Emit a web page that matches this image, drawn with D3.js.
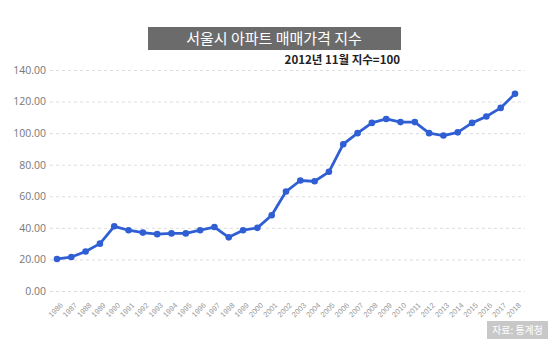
<!DOCTYPE html>
<html>
<head>
<meta charset="utf-8">
<script src="https://cdn.jsdelivr.net/npm/d3@7"></script>
<style>
  body { margin: 0; background: #fff; }
  svg { font-family: "Noto Sans CJK KR", "Noto Sans", sans-serif; }
</style>
</head>
<body>
<svg id="chart" width="559" height="352"></svg>
<script>
const years = d3.range(1986, 2019);
const values = [20.3, 21.5, 25, 30, 41, 38.5, 37, 36, 36.5, 36.5, 38.5, 40.5, 34, 38.5, 40,
                48, 63, 70, 69.5, 75.5, 93, 100, 106.5, 109, 107, 107, 100, 98.5, 100.5,
                106.5, 110.5, 116, 125];
const yTicks = [0, 20, 40, 60, 80, 100, 120, 140];

const svg = d3.select('#chart');

// scales
const x = d3.scalePoint().domain(years).range([57, 515]);
const y = d3.scaleLinear().domain([0, 140]).range([291, 70]);

// title
svg.append('rect')
  .attr('x', 148).attr('y', 27).attr('width', 253).attr('height', 23)
  .attr('fill', '#6b6b6b');
svg.append('text')
  .attr('x', 274).attr('y', 44).attr('text-anchor', 'middle')
  .attr('font-size', 15).attr('fill', '#fff')
  .text('서울시 아파트 매매가격 지수');
svg.append('text')
  .attr('x', 400).attr('y', 64).attr('text-anchor', 'end')
  .attr('font-size', 11.5).attr('font-weight', 'bold').attr('fill', '#222')
  .text('2012년 11월 지수=100');

// y axis with dashed gridlines
const yAxis = d3.axisLeft(y).tickValues(yTicks).tickFormat(d3.format('.2f'))
  .tickSize(-(525 - 50)).tickPadding(4);
const gy = svg.append('g').attr('transform', 'translate(50,0)').call(yAxis);
gy.select('.domain').remove();
gy.selectAll('.tick line').attr('stroke', '#ddd').attr('stroke-dasharray', '3,3');
gy.selectAll('.tick text').attr('fill', '#777').attr('font-size', 10.5)
  .attr('font-family', '"Open Sans", sans-serif');

// x axis labels
const xAxis = d3.axisBottom(x).tickSize(0).tickPadding(0);
const gx = svg.append('g').attr('transform', 'translate(0,296)').call(xAxis);
gx.select('.domain').remove();
gx.selectAll('.tick text')
  .attr('fill', '#999').attr('font-size', 7.5)
  .attr('text-anchor', 'end')
  .attr('dy', '0.35em')
  .attr('transform', 'translate(4,8) rotate(-45)');

// line
const line = d3.line().x((d, i) => x(years[i])).y(d => y(d));
svg.append('path').datum(values)
  .attr('d', line).attr('fill', 'none')
  .attr('stroke', '#2f5fd3').attr('stroke-width', 2.8)
  .attr('stroke-linejoin', 'round');
svg.selectAll('.dot').data(values).enter().append('circle')
  .attr('cx', (d, i) => x(years[i])).attr('cy', d => y(d))
  .attr('r', 3.3).attr('fill', '#2f5fd3');

// source
svg.append('rect')
  .attr('x', 487).attr('y', 321).attr('width', 61).attr('height', 18)
  .attr('fill', '#c8c8c8');
svg.append('text')
  .attr('x', 517.5).attr('y', 334).attr('text-anchor', 'middle')
  .attr('font-size', 10).attr('fill', '#fff')
  .text('자료: 통계청');
</script>
</body>
</html>
